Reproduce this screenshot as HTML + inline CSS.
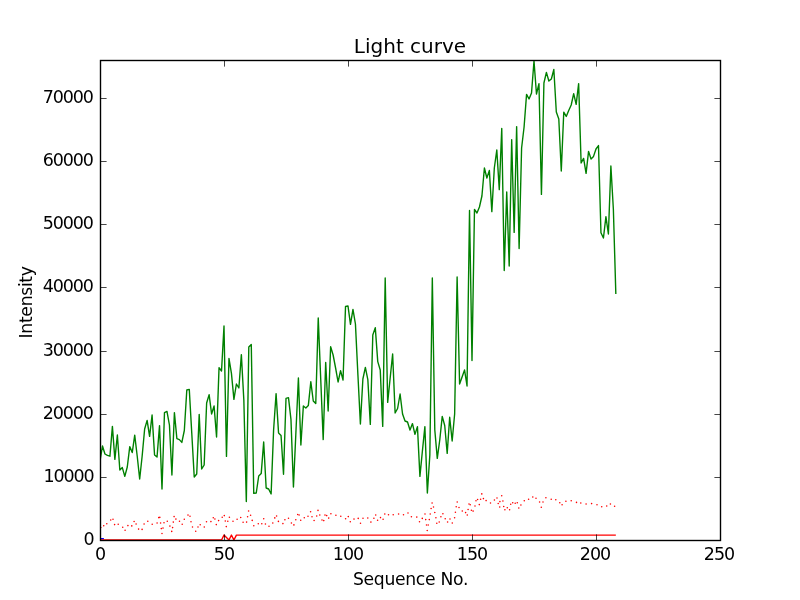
<!DOCTYPE html>
<html><head><meta charset="utf-8"><title>Light curve</title>
<style>
html,body{margin:0;padding:0;background:#fff;}
body{width:800px;height:600px;overflow:hidden;}
svg{display:block;}
text{font-family:"DejaVu Sans","Liberation Sans",sans-serif;fill:#000;}
.tk{font-size:17.5px;letter-spacing:-1.1px;}
.al{font-size:17.2px;letter-spacing:-0.3px;}
.ttl{font-size:20px;}
</style></head><body>
<svg width="800" height="600" viewBox="0 0 800 600">
<rect x="0" y="0" width="800" height="600" fill="#ffffff"/>
<defs><clipPath id="c"><rect x="100" y="60" width="620" height="480.5"/></clipPath></defs>
<g clip-path="url(#c)" fill="none" stroke-linejoin="round">
<polyline points="100,538.6 103.9,538.6" stroke="#0000ff" stroke-width="1.39"/>
<polyline points="100,461 102.48,446 104.96,454 107.44,455.4 109.92,456.2 112.4,426.4 114.88,459.4 117.36,435 119.84,470 122.32,467.6 124.8,476.4 127.28,467 129.76,446.6 132.24,452.6 134.72,435.2 137.2,456 139.68,479 142.16,456 144.64,429 147.12,420.4 149.6,436.4 152.08,415 154.56,455 157.04,457 159.52,425.6 162,489 164.48,412.6 166.96,411.4 169.44,425 171.92,475 174.4,412.6 176.88,438.6 179.36,439.6 181.84,442.4 184.32,430.5 186.8,390 189.28,389.4 191.76,433 194.24,477 196.72,474 199.2,414.4 201.68,469 204.16,465 206.64,403 209.12,394.6 211.6,414 214.08,406 216.56,437 219.04,367.6 221.52,371 224,326 226.48,456.4 228.96,358.4 231.44,373.4 233.92,399.4 236.4,384 238.88,388 241.36,354.6 243.84,400 246.32,501.6 248.8,347 251.28,344.4 253.76,493.4 256.24,493 258.72,476 261.2,473.6 263.68,442 266.16,488 268.64,489 271.12,494 273.6,430 276.08,393.6 278.56,433 281.04,435.5 283.52,474.2 286,398.4 288.48,397.6 290.96,419.3 293.44,487 295.92,432 298.4,378 300.88,445 303.36,406 305.84,408 308.32,405.6 310.8,381.7 313.28,401 315.76,403.6 318.24,318 320.72,379 323.2,439.6 325.68,362.4 328.16,411 330.64,346.6 333.12,355 335.6,368 338.08,382 340.56,370.6 343.04,380 345.52,306.4 348,306 350.48,324.4 352.96,309.4 355.44,324 357.92,375 360.4,424 362.88,379 365.36,367.4 367.84,379.6 370.32,424.4 372.8,335 375.28,327.6 377.76,361.6 380.24,370 382.72,426.4 385.2,278 387.68,402.4 390.16,378 392.64,354 395.12,413 397.6,408.5 400.08,394 402.56,414 405.04,421 407.52,422 410,430 412.48,423.6 414.96,434.4 417.44,426.6 419.92,476.4 422.4,451 424.88,426.6 427.36,493 429.84,455 432.32,278 434.8,430 437.28,458.4 439.76,440 442.24,416.4 444.72,425.5 447.2,453.4 449.68,417.2 452.16,441 454.64,414 457.12,277 459.6,384 462.08,377 464.56,370 467.04,386 469.52,210.4 472,360.6 474.48,209.4 476.96,213 479.44,207 481.92,196 484.4,168 486.88,178 489.36,170.4 491.84,211.6 494.32,168 496.8,150 499.28,189.6 501.76,128.4 504.24,270.6 506.72,192 509.2,266 511.68,139.6 514.16,232.4 516.64,126.6 519.12,248.6 521.6,148 524.08,127 526.56,94.4 529.04,99 531.52,93 534,61 536.48,94 538.96,83.6 541.44,194.4 543.92,83 546.4,72.4 548.88,81 551.36,79 553.84,69.5 556.32,112 558.8,119 561.28,171 563.76,112.2 566.24,116.4 568.72,110.5 571.2,105 573.68,93.6 576.16,104.4 578.64,83.6 581.12,163 583.6,158.4 586.08,173.4 588.56,151.4 591.04,159 593.52,156.4 596,149 598.48,145.6 600.96,232.7 603.44,238 605.92,216.7 608.4,234 610.88,166 613.36,209 615.84,294" stroke="#008000" stroke-width="1.39" stroke-linejoin="round"/>
<g fill="#ff0000" stroke="none">
<circle cx="101.3" cy="527.5" r="0.45"/><circle cx="103.7" cy="525.8" r="0.78"/><circle cx="106.8" cy="523.7" r="0.78"/><circle cx="110.7" cy="520" r="0.78"/><circle cx="113" cy="519.3" r="0.78"/><circle cx="114.6" cy="524.6" r="0.78"/><circle cx="118.2" cy="524.3" r="0.78"/><circle cx="122.7" cy="527.2" r="0.78"/><circle cx="125.1" cy="530.3" r="0.78"/><circle cx="127.9" cy="525.6" r="0.78"/><circle cx="131.8" cy="525.9" r="0.78"/><circle cx="134.1" cy="521.5" r="0.78"/><circle cx="136.1" cy="524" r="0.78"/><circle cx="138.6" cy="529.1" r="0.78"/><circle cx="142.1" cy="529.4" r="0.78"/><circle cx="144.1" cy="524" r="0.78"/><circle cx="147.8" cy="521.2" r="0.78"/><circle cx="152.2" cy="524.2" r="0.78"/><circle cx="157.1" cy="523" r="0.78"/><circle cx="158.7" cy="517.6" r="0.78"/><circle cx="159.8" cy="517.4" r="0.78"/><circle cx="160.6" cy="523" r="0.78"/><circle cx="161.3" cy="528.6" r="0.78"/><circle cx="162" cy="533.5" r="0.78"/><circle cx="163" cy="528.1" r="0.78"/><circle cx="164" cy="522.7" r="0.78"/><circle cx="167.3" cy="521.2" r="0.78"/><circle cx="169.9" cy="526.1" r="0.78"/><circle cx="171.7" cy="531.4" r="0.78"/><circle cx="172.6" cy="527.6" r="0.78"/><circle cx="173.3" cy="522.1" r="0.78"/><circle cx="174.1" cy="516.6" r="0.78"/><circle cx="175.9" cy="519.1" r="0.78"/><circle cx="179.5" cy="521.2" r="0.78"/><circle cx="182.2" cy="524.3" r="0.78"/><circle cx="184.3" cy="519.2" r="0.78"/><circle cx="188" cy="515.1" r="0.78"/><circle cx="190" cy="516.3" r="0.78"/><circle cx="191" cy="521.7" r="0.78"/><circle cx="192.5" cy="527" r="0.78"/><circle cx="195.7" cy="531.2" r="0.78"/><circle cx="198" cy="527" r="0.78"/><circle cx="200.2" cy="524.7" r="0.78"/><circle cx="204.3" cy="527" r="0.78"/><circle cx="206.5" cy="521.8" r="0.78"/><circle cx="210.9" cy="521.6" r="0.78"/><circle cx="213.3" cy="517.7" r="0.78"/><circle cx="214.9" cy="519" r="0.78"/><circle cx="216.3" cy="524.6" r="0.78"/><circle cx="218.6" cy="520.6" r="0.78"/><circle cx="222.2" cy="517.2" r="0.78"/><circle cx="224.3" cy="515.6" r="0.78"/><circle cx="225.3" cy="521" r="0.78"/><circle cx="226.3" cy="526.6" r="0.78"/><circle cx="227.8" cy="521.3" r="0.78"/><circle cx="229.4" cy="517.3" r="0.78"/><circle cx="233" cy="521.3" r="0.78"/><circle cx="237.1" cy="519.3" r="0.78"/><circle cx="240.7" cy="517.5" r="0.78"/><circle cx="243.1" cy="522.3" r="0.78"/><circle cx="246.6" cy="522.1" r="0.78"/><circle cx="247.6" cy="516.7" r="0.78"/><circle cx="248.6" cy="511" r="0.78"/><circle cx="250.6" cy="515.2" r="0.78"/><circle cx="252.2" cy="520.4" r="0.78"/><circle cx="253.8" cy="525.8" r="0.78"/><circle cx="258.3" cy="523.7" r="0.78"/><circle cx="261.8" cy="523.7" r="0.78"/><circle cx="263.7" cy="518.7" r="0.78"/><circle cx="265.4" cy="524" r="0.78"/><circle cx="269" cy="526.2" r="0.78"/><circle cx="272.8" cy="523" r="0.78"/><circle cx="274.8" cy="517.9" r="0.78"/><circle cx="276.6" cy="516" r="0.78"/><circle cx="278.4" cy="521.4" r="0.78"/><circle cx="282.9" cy="523.6" r="0.78"/><circle cx="284.9" cy="519.8" r="0.78"/><circle cx="288.5" cy="518.2" r="0.78"/><circle cx="291.4" cy="523" r="0.78"/><circle cx="293.9" cy="524.9" r="0.78"/><circle cx="295.8" cy="519.8" r="0.78"/><circle cx="297.7" cy="514.5" r="0.78"/><circle cx="299.1" cy="515" r="0.78"/><circle cx="300.7" cy="520.2" r="0.78"/><circle cx="304.3" cy="517.8" r="0.78"/><circle cx="308" cy="516.3" r="0.78"/><circle cx="310.6" cy="511.8" r="0.78"/><circle cx="312" cy="516.7" r="0.78"/><circle cx="314.1" cy="520.5" r="0.78"/><circle cx="316.7" cy="516" r="0.78"/><circle cx="318" cy="510.4" r="0.78"/><circle cx="319.8" cy="515" r="0.78"/><circle cx="322" cy="520" r="0.78"/><circle cx="323.8" cy="520.6" r="0.78"/><circle cx="325" cy="515.1" r="0.78"/><circle cx="326.7" cy="515.6" r="0.78"/><circle cx="328.7" cy="518.1" r="0.78"/><circle cx="330.9" cy="513.8" r="0.78"/><circle cx="335.9" cy="515.2" r="0.78"/><circle cx="340.8" cy="516.3" r="0.78"/><circle cx="345.6" cy="518.8" r="0.78"/><circle cx="348.3" cy="516.6" r="0.78"/><circle cx="350.3" cy="521.8" r="0.78"/><circle cx="354" cy="519.1" r="0.78"/><circle cx="358.2" cy="518.4" r="0.78"/><circle cx="360.5" cy="523.2" r="0.78"/><circle cx="363" cy="518.2" r="0.78"/><circle cx="367.8" cy="518" r="0.78"/><circle cx="370.9" cy="522.1" r="0.78"/><circle cx="373.9" cy="518.2" r="0.78"/><circle cx="375.7" cy="515" r="0.78"/><circle cx="377.6" cy="520.2" r="0.78"/><circle cx="380.5" cy="517.6" r="0.78"/><circle cx="383.1" cy="519.3" r="0.78"/><circle cx="384.8" cy="514" r="0.78"/><circle cx="388.5" cy="514.7" r="0.78"/><circle cx="393.2" cy="514.8" r="0.78"/><circle cx="398.6" cy="514" r="0.78"/><circle cx="403.5" cy="514.8" r="0.78"/><circle cx="408" cy="513" r="0.78"/><circle cx="411.4" cy="516.8" r="0.78"/><circle cx="416.8" cy="517.1" r="0.78"/><circle cx="419.5" cy="521.7" r="0.78"/><circle cx="422.3" cy="518.4" r="0.78"/><circle cx="425" cy="514" r="0.78"/><circle cx="425.7" cy="519.6" r="0.78"/><circle cx="426.5" cy="525" r="0.78"/><circle cx="427.2" cy="530.5" r="0.78"/><circle cx="428.2" cy="525" r="0.78"/><circle cx="429.3" cy="519.6" r="0.78"/><circle cx="430.2" cy="514" r="0.78"/><circle cx="431.1" cy="508.5" r="0.78"/><circle cx="432.1" cy="503" r="0.78"/><circle cx="433.5" cy="507" r="0.78"/><circle cx="434.8" cy="512.5" r="0.78"/><circle cx="435.9" cy="517.8" r="0.78"/><circle cx="436.8" cy="523.3" r="0.78"/><circle cx="439.2" cy="522" r="0.78"/><circle cx="440.9" cy="516.8" r="0.78"/><circle cx="442.9" cy="513.8" r="0.78"/><circle cx="445.2" cy="518.8" r="0.78"/><circle cx="447.6" cy="522" r="0.78"/><circle cx="450" cy="519" r="0.78"/><circle cx="452.3" cy="523" r="0.78"/><circle cx="454.6" cy="517.8" r="0.78"/><circle cx="455.4" cy="512.3" r="0.78"/><circle cx="456.2" cy="506.8" r="0.78"/><circle cx="457.2" cy="502" r="0.78"/><circle cx="459" cy="507.5" r="0.78"/><circle cx="462.3" cy="511" r="0.78"/><circle cx="465.6" cy="512.6" r="0.78"/><circle cx="467.3" cy="515" r="0.78"/><circle cx="468.1" cy="509.5" r="0.78"/><circle cx="469" cy="504" r="0.78"/><circle cx="470.2" cy="504.8" r="0.78"/><circle cx="471.4" cy="510.2" r="0.78"/><circle cx="473.1" cy="511.1" r="0.78"/><circle cx="475" cy="506" r="0.78"/><circle cx="476" cy="500.7" r="0.78"/><circle cx="477.6" cy="499.5" r="0.78"/><circle cx="479.3" cy="504.6" r="0.78"/><circle cx="480.6" cy="499.3" r="0.78"/><circle cx="481.8" cy="493.9" r="0.78"/><circle cx="483.4" cy="498.6" r="0.78"/><circle cx="486.1" cy="500.6" r="0.78"/><circle cx="490.5" cy="503" r="0.78"/><circle cx="494.4" cy="500" r="0.78"/><circle cx="497" cy="498" r="0.78"/><circle cx="498.2" cy="503.5" r="0.78"/><circle cx="499.9" cy="501.6" r="0.78"/><circle cx="499.7" cy="507" r="0.78"/><circle cx="501.7" cy="495.8" r="0.78"/><circle cx="502.9" cy="501" r="0.78"/><circle cx="503.7" cy="506.5" r="0.78"/><circle cx="504.9" cy="509.8" r="0.78"/><circle cx="507.3" cy="507.8" r="0.78"/><circle cx="509.6" cy="509.7" r="0.78"/><circle cx="510.7" cy="504.3" r="0.78"/><circle cx="512.7" cy="502.7" r="0.78"/><circle cx="515.2" cy="503.3" r="0.78"/><circle cx="517.3" cy="502.7" r="0.78"/><circle cx="518.8" cy="508" r="0.78"/><circle cx="520.9" cy="505" r="0.78"/><circle cx="524.3" cy="500.8" r="0.78"/><circle cx="528.6" cy="499.3" r="0.78"/><circle cx="532.8" cy="497" r="0.78"/><circle cx="536" cy="498.2" r="0.78"/><circle cx="539.6" cy="502" r="0.78"/><circle cx="541.3" cy="507.2" r="0.78"/><circle cx="543" cy="502" r="0.78"/><circle cx="545.9" cy="497.8" r="0.78"/><circle cx="551.2" cy="499.2" r="0.78"/><circle cx="555.8" cy="499.7" r="0.78"/><circle cx="559.8" cy="502.8" r="0.78"/><circle cx="562.1" cy="504.7" r="0.78"/><circle cx="565.9" cy="501.3" r="0.78"/><circle cx="571.2" cy="500.7" r="0.78"/><circle cx="576.5" cy="502.4" r="0.78"/><circle cx="580.8" cy="503" r="0.78"/><circle cx="586.1" cy="504" r="0.78"/><circle cx="591.6" cy="503.6" r="0.78"/><circle cx="597" cy="504.8" r="0.78"/><circle cx="601.7" cy="506.8" r="0.78"/><circle cx="606.7" cy="506" r="0.78"/><circle cx="610.4" cy="504" r="0.78"/><circle cx="614.6" cy="506.2" r="0.78"/>
</g>
<polyline points="100,540 221.52,540 224,535.1 228.96,540 231.44,535.1 233.92,540 236.4,535.1 615.84,535.1" stroke="#ff0000" stroke-width="1.39"/>
</g>
<rect x="100.5" y="60.5" width="620" height="480" fill="none" stroke="#000" stroke-width="1.39" stroke-linejoin="miter"/>
<g fill="#000">
<rect x="100" y="61" width="1" height="5.6" fill-opacity="0.72"/><rect x="100" y="534.4" width="1" height="5.6" fill-opacity="0.72"/><rect x="224" y="61" width="1" height="5.6" fill-opacity="0.72"/><rect x="224" y="534.4" width="1" height="5.6" fill-opacity="0.72"/><rect x="348" y="61" width="1" height="5.6" fill-opacity="0.72"/><rect x="348" y="534.4" width="1" height="5.6" fill-opacity="0.72"/><rect x="472" y="61" width="1" height="5.6" fill-opacity="0.72"/><rect x="472" y="534.4" width="1" height="5.6" fill-opacity="0.72"/><rect x="596" y="61" width="1" height="5.6" fill-opacity="0.72"/><rect x="596" y="534.4" width="1" height="5.6" fill-opacity="0.72"/><rect x="720" y="61" width="1" height="5.6" fill-opacity="0.72"/><rect x="720" y="534.4" width="1" height="5.6" fill-opacity="0.72"/>
<rect x="101" y="540" width="5.6" height="1" fill-opacity="0.72"/><rect x="714.4" y="540" width="5.6" height="1" fill-opacity="0.72"/><rect x="101" y="477" width="5.6" height="1" fill-opacity="0.72"/><rect x="714.4" y="477" width="5.6" height="1" fill-opacity="0.72"/><rect x="101" y="414" width="5.6" height="1" fill-opacity="0.72"/><rect x="714.4" y="414" width="5.6" height="1" fill-opacity="0.72"/><rect x="101" y="351" width="5.6" height="1" fill-opacity="0.72"/><rect x="714.4" y="351" width="5.6" height="1" fill-opacity="0.72"/><rect x="101" y="287" width="5.6" height="1" fill-opacity="0.72"/><rect x="714.4" y="287" width="5.6" height="1" fill-opacity="0.72"/><rect x="101" y="224" width="5.6" height="1" fill-opacity="0.72"/><rect x="714.4" y="224" width="5.6" height="1" fill-opacity="0.72"/><rect x="101" y="161" width="5.6" height="1" fill-opacity="0.72"/><rect x="714.4" y="161" width="5.6" height="1" fill-opacity="0.72"/><rect x="101" y="98" width="5.6" height="1" fill-opacity="0.72"/><rect x="714.4" y="98" width="5.6" height="1" fill-opacity="0.72"/>
</g>
<text class="ttl" x="410" y="52.5" text-anchor="middle">Light curve</text>
<text class="tk" x="99.9" y="560" text-anchor="middle">0</text><text class="tk" x="223.9" y="560" text-anchor="middle">50</text><text class="tk" x="347.9" y="560" text-anchor="middle">100</text><text class="tk" x="471.9" y="560" text-anchor="middle">150</text><text class="tk" x="594.9" y="560" text-anchor="middle">200</text><text class="tk" x="718.9" y="560" text-anchor="middle">250</text>
<text class="tk" x="93.6" y="545" text-anchor="end">0</text><text class="tk" x="93.6" y="482" text-anchor="end">10000</text><text class="tk" x="92.8" y="419" text-anchor="end">20000</text><text class="tk" x="92.8" y="356" text-anchor="end">30000</text><text class="tk" x="92.8" y="292" text-anchor="end">40000</text><text class="tk" x="92.8" y="229" text-anchor="end">50000</text><text class="tk" x="92.8" y="166" text-anchor="end">60000</text><text class="tk" x="92.8" y="103" text-anchor="end">70000</text>
<text class="al" x="410.5" y="584.6" text-anchor="middle">Sequence No.</text>
<text class="al" transform="translate(31.7,302.4) rotate(-90)" text-anchor="middle">Intensity</text>
</svg>
</body></html>
